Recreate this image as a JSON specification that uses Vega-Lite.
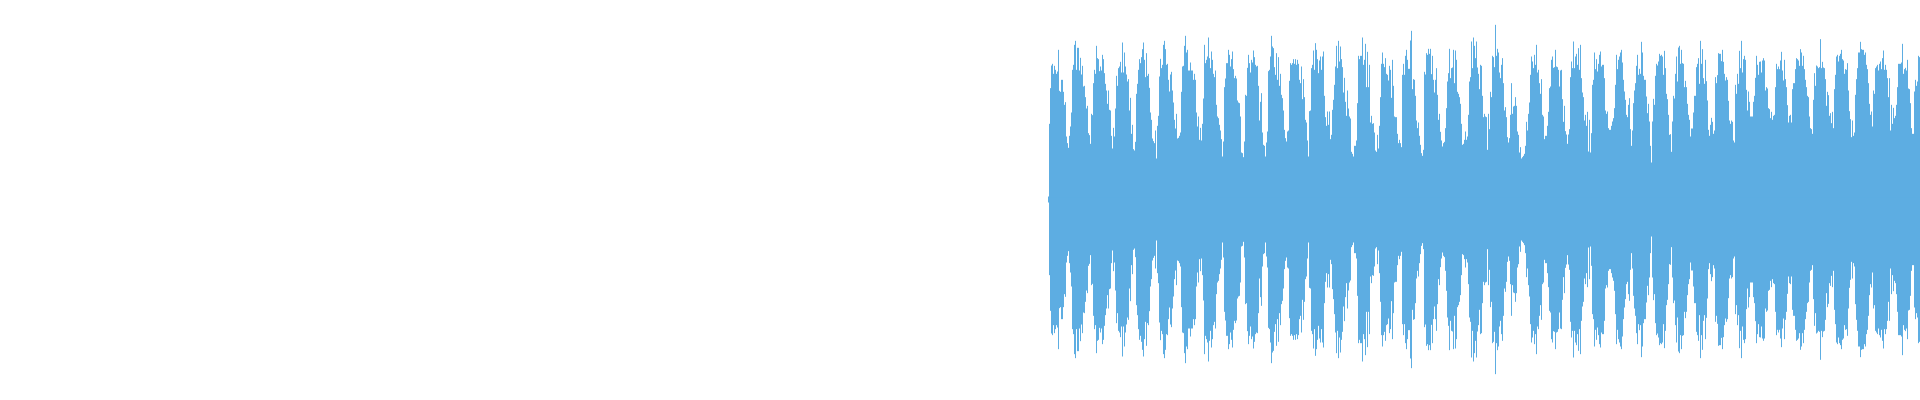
{"$schema":"https://vega.github.io/schema/vega-lite/v6.json","width":1920,"height":400,"padding":0,"autosize":{"type":"none"},"background":"white","config":{"view":{"stroke":null}},
"data":{"values":[{"x":1048,"a":9},{"x":1049,"a":227},{"x":1050,"a":334},{"x":1051,"a":402},{"x":1052,"a":407},{"x":1053,"a":377},{"x":1054,"a":401},{"x":1055,"a":389},{"x":1056,"a":377},{"x":1057,"a":384},{"x":1058,"a":449},{"x":1059,"a":326},{"x":1060,"a":323},{"x":1061,"a":359},{"x":1062,"a":359},{"x":1063,"a":323},{"x":1064,"a":284},{"x":1065,"a":292},{"x":1066,"a":189},{"x":1067,"a":169},{"x":1068,"a":155},{"x":1069,"a":191},{"x":1070,"a":219},{"x":1071,"a":261},{"x":1072,"a":389},{"x":1073,"a":404},{"x":1074,"a":464},{"x":1075,"a":476},{"x":1076,"a":389},{"x":1077,"a":455},{"x":1078,"a":455},{"x":1079,"a":387},{"x":1080,"a":425},{"x":1081,"a":375},{"x":1082,"a":401},{"x":1083,"a":339},{"x":1084,"a":341},{"x":1085,"a":307},{"x":1086,"a":273},{"x":1087,"a":281},{"x":1088,"a":199},{"x":1089,"a":193},{"x":1090,"a":167},{"x":1091,"a":257},{"x":1092,"a":253},{"x":1093,"a":349},{"x":1094,"a":389},{"x":1095,"a":377},{"x":1096,"a":461},{"x":1097,"a":424},{"x":1098,"a":421},{"x":1099,"a":385},{"x":1100,"a":399},{"x":1101,"a":387},{"x":1102,"a":434},{"x":1103,"a":421},{"x":1104,"a":379},{"x":1105,"a":347},{"x":1106,"a":327},{"x":1107,"a":287},{"x":1108,"a":327},{"x":1109,"a":269},{"x":1110,"a":267},{"x":1111,"a":191},{"x":1112,"a":153},{"x":1113,"a":215},{"x":1114,"a":189},{"x":1115,"a":273},{"x":1116,"a":371},{"x":1117,"a":341},{"x":1118,"a":394},{"x":1119,"a":399},{"x":1120,"a":413},{"x":1121,"a":381},{"x":1122,"a":471},{"x":1123,"a":381},{"x":1124,"a":441},{"x":1125,"a":399},{"x":1126,"a":375},{"x":1127,"a":354},{"x":1128,"a":361},{"x":1129,"a":267},{"x":1130,"a":305},{"x":1131,"a":197},{"x":1132,"a":224},{"x":1133,"a":151},{"x":1134,"a":147},{"x":1135,"a":173},{"x":1136,"a":317},{"x":1137,"a":347},{"x":1138,"a":389},{"x":1139,"a":421},{"x":1140,"a":409},{"x":1141,"a":427},{"x":1142,"a":451},{"x":1143,"a":471},{"x":1144,"a":419},{"x":1145,"a":367},{"x":1146,"a":439},{"x":1147,"a":371},{"x":1148,"a":377},{"x":1149,"a":335},{"x":1150,"a":261},{"x":1151,"a":239},{"x":1152,"a":183},{"x":1153,"a":175},{"x":1154,"a":169},{"x":1155,"a":207},{"x":1156,"a":123},{"x":1157,"a":221},{"x":1158,"a":251},{"x":1159,"a":369},{"x":1160,"a":422},{"x":1161,"a":394},{"x":1162,"a":404},{"x":1163,"a":464},{"x":1164,"a":476},{"x":1165,"a":451},{"x":1166,"a":404},{"x":1167,"a":407},{"x":1168,"a":359},{"x":1169,"a":324},{"x":1170,"a":375},{"x":1171,"a":383},{"x":1172,"a":327},{"x":1173,"a":291},{"x":1174,"a":239},{"x":1175,"a":213},{"x":1176,"a":257},{"x":1177,"a":183},{"x":1178,"a":185},{"x":1179,"a":191},{"x":1180,"a":201},{"x":1181,"a":323},{"x":1182,"a":399},{"x":1183,"a":401},{"x":1184,"a":461},{"x":1185,"a":491},{"x":1186,"a":441},{"x":1187,"a":449},{"x":1188,"a":387},{"x":1189,"a":387},{"x":1190,"a":411},{"x":1191,"a":387},{"x":1192,"a":387},{"x":1193,"a":359},{"x":1194,"a":377},{"x":1195,"a":359},{"x":1196,"a":261},{"x":1197,"a":219},{"x":1198,"a":249},{"x":1199,"a":179},{"x":1200,"a":215},{"x":1201,"a":177},{"x":1202,"a":227},{"x":1203,"a":303},{"x":1204,"a":464},{"x":1205,"a":409},{"x":1206,"a":419},{"x":1207,"a":429},{"x":1208,"a":486},{"x":1209,"a":424},{"x":1210,"a":394},{"x":1211,"a":444},{"x":1212,"a":419},{"x":1213,"a":377},{"x":1214,"a":367},{"x":1215,"a":387},{"x":1216,"a":284},{"x":1217,"a":249},{"x":1218,"a":244},{"x":1219,"a":224},{"x":1220,"a":207},{"x":1221,"a":181},{"x":1222,"a":129},{"x":1223,"a":174},{"x":1224,"a":337},{"x":1225,"a":363},{"x":1226,"a":409},{"x":1227,"a":409},{"x":1228,"a":449},{"x":1229,"a":434},{"x":1230,"a":399},{"x":1231,"a":421},{"x":1232,"a":444},{"x":1233,"a":391},{"x":1234,"a":364},{"x":1235,"a":371},{"x":1236,"a":363},{"x":1237,"a":297},{"x":1238,"a":291},{"x":1239,"a":289},{"x":1240,"a":249},{"x":1241,"a":141},{"x":1242,"a":139},{"x":1243,"a":127},{"x":1244,"a":174},{"x":1245,"a":314},{"x":1246,"a":311},{"x":1247,"a":395},{"x":1248,"a":434},{"x":1249,"a":409},{"x":1250,"a":381},{"x":1251,"a":419},{"x":1252,"a":411},{"x":1253,"a":447},{"x":1254,"a":427},{"x":1255,"a":404},{"x":1256,"a":399},{"x":1257,"a":401},{"x":1258,"a":341},{"x":1259,"a":237},{"x":1260,"a":293},{"x":1261,"a":319},{"x":1262,"a":201},{"x":1263,"a":164},{"x":1264,"a":161},{"x":1265,"a":129},{"x":1266,"a":171},{"x":1267,"a":204},{"x":1268,"a":385},{"x":1269,"a":389},{"x":1270,"a":429},{"x":1271,"a":491},{"x":1272,"a":459},{"x":1273,"a":454},{"x":1274,"a":397},{"x":1275,"a":374},{"x":1276,"a":439},{"x":1277,"a":359},{"x":1278,"a":427},{"x":1279,"a":341},{"x":1280,"a":377},{"x":1281,"a":314},{"x":1282,"a":304},{"x":1283,"a":267},{"x":1284,"a":209},{"x":1285,"a":184},{"x":1286,"a":174},{"x":1287,"a":204},{"x":1288,"a":207},{"x":1289,"a":356},{"x":1290,"a":409},{"x":1291,"a":404},{"x":1292,"a":409},{"x":1293,"a":421},{"x":1294,"a":407},{"x":1295,"a":421},{"x":1296,"a":404},{"x":1297,"a":419},{"x":1298,"a":407},{"x":1299,"a":359},{"x":1300,"a":349},{"x":1301,"a":399},{"x":1302,"a":301},{"x":1303,"a":361},{"x":1304,"a":307},{"x":1305,"a":239},{"x":1306,"a":231},{"x":1307,"a":177},{"x":1308,"a":129},{"x":1309,"a":265},{"x":1310,"a":267},{"x":1311,"a":394},{"x":1312,"a":404},{"x":1313,"a":447},{"x":1314,"a":389},{"x":1315,"a":469},{"x":1316,"a":449},{"x":1317,"a":421},{"x":1318,"a":379},{"x":1319,"a":417},{"x":1320,"a":429},{"x":1321,"a":389},{"x":1322,"a":429},{"x":1323,"a":444},{"x":1324,"a":311},{"x":1325,"a":247},{"x":1326,"a":221},{"x":1327,"a":264},{"x":1328,"a":224},{"x":1329,"a":264},{"x":1330,"a":181},{"x":1331,"a":194},{"x":1332,"a":269},{"x":1333,"a":299},{"x":1334,"a":344},{"x":1335,"a":399},{"x":1336,"a":461},{"x":1337,"a":394},{"x":1338,"a":476},{"x":1339,"a":414},{"x":1340,"a":459},{"x":1341,"a":421},{"x":1342,"a":397},{"x":1343,"a":321},{"x":1344,"a":365},{"x":1345,"a":293},{"x":1346,"a":251},{"x":1347,"a":327},{"x":1348,"a":273},{"x":1349,"a":249},{"x":1350,"a":243},{"x":1351,"a":143},{"x":1352,"a":137},{"x":1353,"a":129},{"x":1354,"a":161},{"x":1355,"a":161},{"x":1356,"a":177},{"x":1357,"a":289},{"x":1358,"a":431},{"x":1359,"a":421},{"x":1360,"a":431},{"x":1361,"a":431},{"x":1362,"a":486},{"x":1363,"a":404},{"x":1364,"a":419},{"x":1365,"a":467},{"x":1366,"a":337},{"x":1367,"a":443},{"x":1368,"a":337},{"x":1369,"a":404},{"x":1370,"a":231},{"x":1371,"a":251},{"x":1372,"a":227},{"x":1373,"a":229},{"x":1374,"a":201},{"x":1375,"a":147},{"x":1376,"a":143},{"x":1377,"a":194},{"x":1378,"a":153},{"x":1379,"a":221},{"x":1380,"a":307},{"x":1381,"a":407},{"x":1382,"a":441},{"x":1383,"a":407},{"x":1384,"a":397},{"x":1385,"a":424},{"x":1386,"a":377},{"x":1387,"a":374},{"x":1388,"a":357},{"x":1389,"a":401},{"x":1390,"a":389},{"x":1391,"a":305},{"x":1392,"a":419},{"x":1393,"a":341},{"x":1394,"a":249},{"x":1395,"a":247},{"x":1396,"a":247},{"x":1397,"a":197},{"x":1398,"a":169},{"x":1399,"a":179},{"x":1400,"a":169},{"x":1401,"a":157},{"x":1402,"a":374},{"x":1403,"a":407},{"x":1404,"a":374},{"x":1405,"a":431},{"x":1406,"a":449},{"x":1407,"a":419},{"x":1408,"a":392},{"x":1409,"a":392},{"x":1410,"a":477},{"x":1411,"a":506},{"x":1412,"a":331},{"x":1413,"a":361},{"x":1414,"a":359},{"x":1415,"a":311},{"x":1416,"a":237},{"x":1417,"a":214},{"x":1418,"a":231},{"x":1419,"a":191},{"x":1420,"a":164},{"x":1421,"a":139},{"x":1422,"a":131},{"x":1423,"a":149},{"x":1424,"a":383},{"x":1425,"a":375},{"x":1426,"a":439},{"x":1427,"a":434},{"x":1428,"a":452},{"x":1429,"a":437},{"x":1430,"a":452},{"x":1431,"a":376},{"x":1432,"a":431},{"x":1433,"a":359},{"x":1434,"a":321},{"x":1435,"a":359},{"x":1436,"a":394},{"x":1437,"a":314},{"x":1438,"a":239},{"x":1439,"a":257},{"x":1440,"a":203},{"x":1441,"a":177},{"x":1442,"a":159},{"x":1443,"a":169},{"x":1444,"a":173},{"x":1445,"a":214},{"x":1446,"a":274},{"x":1447,"a":354},{"x":1448,"a":379},{"x":1449,"a":452},{"x":1450,"a":364},{"x":1451,"a":394},{"x":1452,"a":396},{"x":1453,"a":449},{"x":1454,"a":349},{"x":1455,"a":447},{"x":1456,"a":419},{"x":1457,"a":323},{"x":1458,"a":317},{"x":1459,"a":307},{"x":1460,"a":287},{"x":1461,"a":227},{"x":1462,"a":164},{"x":1463,"a":167},{"x":1464,"a":179},{"x":1465,"a":204},{"x":1466,"a":179},{"x":1467,"a":189},{"x":1468,"a":254},{"x":1469,"a":354},{"x":1470,"a":367},{"x":1471,"a":474},{"x":1472,"a":394},{"x":1473,"a":486},{"x":1474,"a":461},{"x":1475,"a":424},{"x":1476,"a":474},{"x":1477,"a":396},{"x":1478,"a":377},{"x":1479,"a":331},{"x":1480,"a":404},{"x":1481,"a":401},{"x":1482,"a":311},{"x":1483,"a":247},{"x":1484,"a":257},{"x":1485,"a":249},{"x":1486,"a":247},{"x":1487,"a":149},{"x":1488,"a":257},{"x":1489,"a":211},{"x":1490,"a":323},{"x":1491,"a":307},{"x":1492,"a":431},{"x":1493,"a":427},{"x":1494,"a":397},{"x":1495,"a":524},{"x":1496,"a":431},{"x":1497,"a":452},{"x":1498,"a":441},{"x":1499,"a":381},{"x":1500,"a":364},{"x":1501,"a":404},{"x":1502,"a":424},{"x":1503,"a":349},{"x":1504,"a":267},{"x":1505,"a":277},{"x":1506,"a":247},{"x":1507,"a":187},{"x":1508,"a":171},{"x":1509,"a":184},{"x":1510,"a":254},{"x":1511,"a":349},{"x":1512,"a":257},{"x":1513,"a":279},{"x":1514,"a":281},{"x":1515,"a":307},{"x":1516,"a":281},{"x":1517,"a":204},{"x":1518,"a":194},{"x":1519,"a":141},{"x":1520,"a":157},{"x":1521,"a":123},{"x":1522,"a":127},{"x":1523,"a":131},{"x":1524,"a":137},{"x":1525,"a":161},{"x":1526,"a":233},{"x":1527,"a":207},{"x":1528,"a":257},{"x":1529,"a":291},{"x":1530,"a":374},{"x":1531,"a":429},{"x":1532,"a":414},{"x":1533,"a":394},{"x":1534,"a":434},{"x":1535,"a":404},{"x":1536,"a":464},{"x":1537,"a":381},{"x":1538,"a":389},{"x":1539,"a":349},{"x":1540,"a":317},{"x":1541,"a":361},{"x":1542,"a":254},{"x":1543,"a":249},{"x":1544,"a":181},{"x":1545,"a":191},{"x":1546,"a":191},{"x":1547,"a":221},{"x":1548,"a":263},{"x":1549,"a":334},{"x":1550,"a":339},{"x":1551,"a":419},{"x":1552,"a":429},{"x":1553,"a":395},{"x":1554,"a":397},{"x":1555,"a":449},{"x":1556,"a":399},{"x":1557,"a":397},{"x":1558,"a":389},{"x":1559,"a":339},{"x":1560,"a":387},{"x":1561,"a":389},{"x":1562,"a":301},{"x":1563,"a":233},{"x":1564,"a":281},{"x":1565,"a":205},{"x":1566,"a":195},{"x":1567,"a":167},{"x":1568,"a":195},{"x":1569,"a":211},{"x":1570,"a":367},{"x":1571,"a":414},{"x":1572,"a":394},{"x":1573,"a":474},{"x":1574,"a":394},{"x":1575,"a":429},{"x":1576,"a":437},{"x":1577,"a":404},{"x":1578,"a":454},{"x":1579,"a":389},{"x":1580,"a":464},{"x":1581,"a":364},{"x":1582,"a":321},{"x":1583,"a":307},{"x":1584,"a":237},{"x":1585,"a":254},{"x":1586,"a":221},{"x":1587,"a":263},{"x":1588,"a":144},{"x":1589,"a":239},{"x":1590,"a":141},{"x":1591,"a":199},{"x":1592,"a":344},{"x":1593,"a":359},{"x":1594,"a":441},{"x":1595,"a":391},{"x":1596,"a":421},{"x":1597,"a":384},{"x":1598,"a":407},{"x":1599,"a":434},{"x":1600,"a":444},{"x":1601,"a":399},{"x":1602,"a":404},{"x":1603,"a":404},{"x":1604,"a":364},{"x":1605,"a":267},{"x":1606,"a":257},{"x":1607,"a":264},{"x":1608,"a":214},{"x":1609,"a":209},{"x":1610,"a":209},{"x":1611,"a":221},{"x":1612,"a":234},{"x":1613,"a":244},{"x":1614,"a":274},{"x":1615,"a":344},{"x":1616,"a":434},{"x":1617,"a":391},{"x":1618,"a":419},{"x":1619,"a":429},{"x":1620,"a":441},{"x":1621,"a":449},{"x":1622,"a":411},{"x":1623,"a":359},{"x":1624,"a":324},{"x":1625,"a":299},{"x":1626,"a":254},{"x":1627,"a":247},{"x":1628,"a":284},{"x":1629,"a":304},{"x":1630,"a":211},{"x":1631,"a":161},{"x":1632,"a":207},{"x":1633,"a":289},{"x":1634,"a":327},{"x":1635,"a":349},{"x":1636,"a":401},{"x":1637,"a":434},{"x":1638,"a":374},{"x":1639,"a":392},{"x":1640,"a":377},{"x":1641,"a":473},{"x":1642,"a":441},{"x":1643,"a":371},{"x":1644,"a":359},{"x":1645,"a":359},{"x":1646,"a":309},{"x":1647,"a":259},{"x":1648,"a":287},{"x":1649,"a":234},{"x":1650,"a":161},{"x":1651,"a":111},{"x":1652,"a":234},{"x":1653,"a":302},{"x":1654,"a":284},{"x":1655,"a":371},{"x":1656,"a":407},{"x":1657,"a":402},{"x":1658,"a":414},{"x":1659,"a":437},{"x":1660,"a":431},{"x":1661,"a":434},{"x":1662,"a":429},{"x":1663,"a":374},{"x":1664,"a":446},{"x":1665,"a":394},{"x":1666,"a":317},{"x":1667,"a":301},{"x":1668,"a":254},{"x":1669,"a":194},{"x":1670,"a":196},{"x":1671,"a":143},{"x":1672,"a":234},{"x":1673,"a":311},{"x":1674,"a":303},{"x":1675,"a":377},{"x":1676,"a":429},{"x":1677,"a":354},{"x":1678,"a":456},{"x":1679,"a":461},{"x":1680,"a":407},{"x":1681,"a":449},{"x":1682,"a":409},{"x":1683,"a":407},{"x":1684,"a":337},{"x":1685,"a":356},{"x":1686,"a":337},{"x":1687,"a":287},{"x":1688,"a":254},{"x":1689,"a":239},{"x":1690,"a":189},{"x":1691,"a":213},{"x":1692,"a":213},{"x":1693,"a":261},{"x":1694,"a":311},{"x":1695,"a":311},{"x":1696,"a":397},{"x":1697,"a":407},{"x":1698,"a":424},{"x":1699,"a":347},{"x":1700,"a":476},{"x":1701,"a":407},{"x":1702,"a":451},{"x":1703,"a":364},{"x":1704,"a":347},{"x":1705,"a":419},{"x":1706,"a":355},{"x":1707,"a":297},{"x":1708,"a":209},{"x":1709,"a":191},{"x":1710,"a":224},{"x":1711,"a":245},{"x":1712,"a":233},{"x":1713,"a":197},{"x":1714,"a":207},{"x":1715,"a":367},{"x":1716,"a":349},{"x":1717,"a":373},{"x":1718,"a":439},{"x":1719,"a":437},{"x":1720,"a":437},{"x":1721,"a":415},{"x":1722,"a":449},{"x":1723,"a":413},{"x":1724,"a":377},{"x":1725,"a":357},{"x":1726,"a":367},{"x":1727,"a":359},{"x":1728,"a":296},{"x":1729,"a":237},{"x":1730,"a":227},{"x":1731,"a":237},{"x":1732,"a":233},{"x":1733,"a":177},{"x":1734,"a":171},{"x":1735,"a":344},{"x":1736,"a":317},{"x":1737,"a":377},{"x":1738,"a":347},{"x":1739,"a":446},{"x":1740,"a":394},{"x":1741,"a":476},{"x":1742,"a":381},{"x":1743,"a":421},{"x":1744,"a":431},{"x":1745,"a":419},{"x":1746,"a":329},{"x":1747,"a":267},{"x":1748,"a":324},{"x":1749,"a":293},{"x":1750,"a":249},{"x":1751,"a":249},{"x":1752,"a":249},{"x":1753,"a":293},{"x":1754,"a":311},{"x":1755,"a":365},{"x":1756,"a":431},{"x":1757,"a":404},{"x":1758,"a":374},{"x":1759,"a":413},{"x":1760,"a":414},{"x":1761,"a":381},{"x":1762,"a":417},{"x":1763,"a":424},{"x":1764,"a":417},{"x":1765,"a":327},{"x":1766,"a":337},{"x":1767,"a":333},{"x":1768,"a":274},{"x":1769,"a":271},{"x":1770,"a":244},{"x":1771,"a":263},{"x":1772,"a":239},{"x":1773,"a":251},{"x":1774,"a":254},{"x":1775,"a":337},{"x":1776,"a":407},{"x":1777,"a":391},{"x":1778,"a":399},{"x":1779,"a":391},{"x":1780,"a":417},{"x":1781,"a":443},{"x":1782,"a":387},{"x":1783,"a":357},{"x":1784,"a":419},{"x":1785,"a":361},{"x":1786,"a":337},{"x":1787,"a":283},{"x":1788,"a":231},{"x":1789,"a":251},{"x":1790,"a":254},{"x":1791,"a":231},{"x":1792,"a":331},{"x":1793,"a":349},{"x":1794,"a":349},{"x":1795,"a":391},{"x":1796,"a":424},{"x":1797,"a":421},{"x":1798,"a":417},{"x":1799,"a":401},{"x":1800,"a":451},{"x":1801,"a":441},{"x":1802,"a":401},{"x":1803,"a":431},{"x":1804,"a":391},{"x":1805,"a":359},{"x":1806,"a":337},{"x":1807,"a":311},{"x":1808,"a":307},{"x":1809,"a":249},{"x":1810,"a":214},{"x":1811,"a":211},{"x":1812,"a":197},{"x":1813,"a":299},{"x":1814,"a":379},{"x":1815,"a":341},{"x":1816,"a":402},{"x":1817,"a":399},{"x":1818,"a":394},{"x":1819,"a":397},{"x":1820,"a":481},{"x":1821,"a":394},{"x":1822,"a":413},{"x":1823,"a":396},{"x":1824,"a":394},{"x":1825,"a":361},{"x":1826,"a":281},{"x":1827,"a":323},{"x":1828,"a":313},{"x":1829,"a":251},{"x":1830,"a":259},{"x":1831,"a":229},{"x":1832,"a":263},{"x":1833,"a":214},{"x":1834,"a":331},{"x":1835,"a":374},{"x":1836,"a":429},{"x":1837,"a":434},{"x":1838,"a":414},{"x":1839,"a":431},{"x":1840,"a":437},{"x":1841,"a":449},{"x":1842,"a":421},{"x":1843,"a":417},{"x":1844,"a":377},{"x":1845,"a":391},{"x":1846,"a":389},{"x":1847,"a":409},{"x":1848,"a":327},{"x":1849,"a":265},{"x":1850,"a":241},{"x":1851,"a":187},{"x":1852,"a":237},{"x":1853,"a":191},{"x":1854,"a":201},{"x":1855,"a":314},{"x":1856,"a":361},{"x":1857,"a":394},{"x":1858,"a":441},{"x":1859,"a":441},{"x":1860,"a":473},{"x":1861,"a":451},{"x":1862,"a":449},{"x":1863,"a":449},{"x":1864,"a":434},{"x":1865,"a":441},{"x":1866,"a":404},{"x":1867,"a":391},{"x":1868,"a":349},{"x":1869,"a":287},{"x":1870,"a":254},{"x":1871,"a":264},{"x":1872,"a":219},{"x":1873,"a":327},{"x":1874,"a":317},{"x":1875,"a":394},{"x":1876,"a":399},{"x":1877,"a":404},{"x":1878,"a":387},{"x":1879,"a":407},{"x":1880,"a":414},{"x":1881,"a":391},{"x":1882,"a":424},{"x":1883,"a":447},{"x":1884,"a":389},{"x":1885,"a":404},{"x":1886,"a":389},{"x":1887,"a":364},{"x":1888,"a":307},{"x":1889,"a":364},{"x":1890,"a":207},{"x":1891,"a":284},{"x":1892,"a":227},{"x":1893,"a":275},{"x":1894,"a":244},{"x":1895,"a":251},{"x":1896,"a":284},{"x":1897,"a":337},{"x":1898,"a":407},{"x":1899,"a":407},{"x":1900,"a":407},{"x":1901,"a":411},{"x":1902,"a":467},{"x":1903,"a":377},{"x":1904,"a":391},{"x":1905,"a":395},{"x":1906,"a":387},{"x":1907,"a":419},{"x":1908,"a":333},{"x":1909,"a":331},{"x":1910,"a":289},{"x":1911,"a":214},{"x":1912,"a":197},{"x":1913,"a":197},{"x":1914,"a":324},{"x":1915,"a":359},{"x":1916,"a":341},{"x":1917,"a":354},{"x":1918,"a":431},{"x":1919,"a":427}]},
"encoding":{"x":{"field":"x","type":"quantitative","axis":null,"scale":{"domain":[-0.5,1919.5],"nice":false,"zero":false}}},
"layer":[
{"mark":{"type":"rule","color":"#5dade2","strokeWidth":1},"encoding":{"y":{"field":"a","type":"quantitative","axis":null,"scale":{"domain":[-601.5,598.5],"nice":false,"zero":false}},"y2":{"datum":-6}}},
{"mark":{"type":"rule","color":"#5dade2","strokeWidth":1},"encoding":{"y":{"field":"a","type":"quantitative","axis":null,"scale":{"domain":[-598.5,601.5],"reverse":true,"nice":false,"zero":false}},"y2":{"datum":-6}}}
],
"resolve":{"scale":{"y":"independent"}}}
